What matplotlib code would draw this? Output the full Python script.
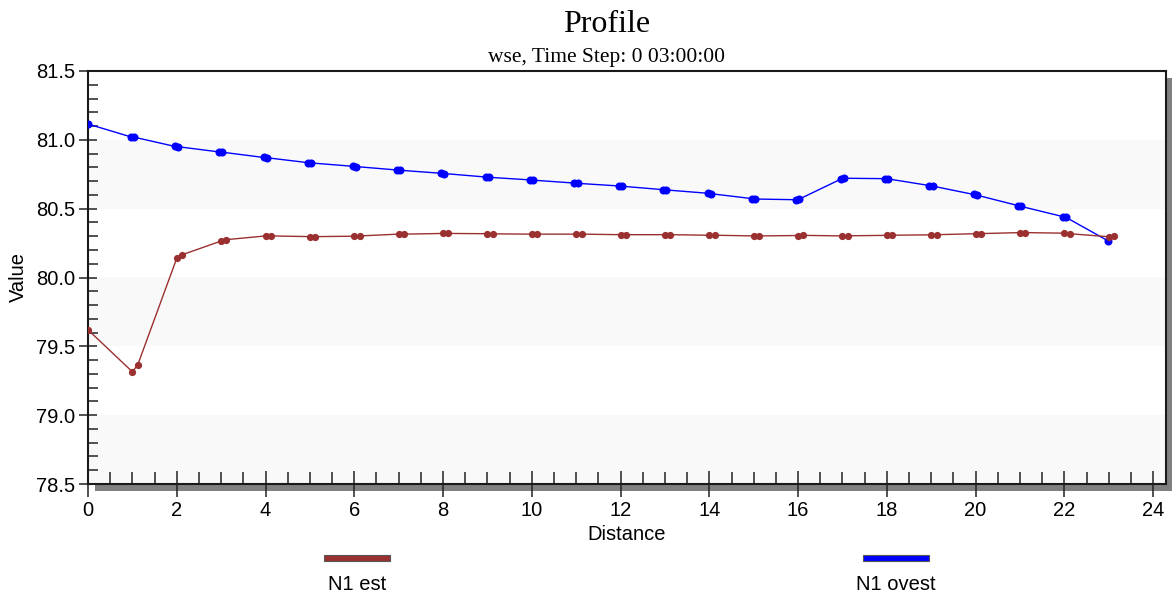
import matplotlib
matplotlib.use("Agg")
import matplotlib.pyplot as plt
from matplotlib.patches import Rectangle
from matplotlib.ticker import MultipleLocator, FormatStrFormatter

# ---------------- data ----------------
est_x = [0.0,
         1.0, 1.12, 2.0, 2.12, 3.0, 3.12, 4.0, 4.12, 5.0, 5.12, 6.0, 6.12,
         7.0, 7.12, 8.0, 8.12, 9.0, 9.12, 10.0, 10.12, 11.0, 11.12, 12.0, 12.12,
         13.0, 13.12, 14.0, 14.12, 15.0, 15.12, 16.0, 16.12, 17.0, 17.12,
         18.0, 18.12, 19.0, 19.12, 20.0, 20.12, 21.0, 21.12, 22.0, 22.12,
         23.0, 23.12]
est_y = [79.62,
         79.315, 79.365, 80.14, 80.165, 80.265, 80.275, 80.302, 80.302,
         80.297, 80.297, 80.300, 80.302, 80.315, 80.315, 80.320, 80.320,
         80.318, 80.317, 80.315, 80.315, 80.315, 80.315, 80.311, 80.311,
         80.311, 80.311, 80.307, 80.307, 80.302, 80.302, 80.305, 80.306,
         80.302, 80.303, 80.306, 80.307, 80.310, 80.311, 80.318, 80.319,
         80.326, 80.326, 80.322, 80.318, 80.296, 80.298]

ovest_x = [0.0,
           0.96, 1.03, 1.96, 2.03, 2.96, 3.03, 3.96, 4.03, 4.96, 5.03,
           5.96, 6.03, 6.96, 7.03, 7.96, 8.03, 8.96, 9.03, 9.96, 10.03,
           10.96, 11.03, 11.96, 12.03, 12.96, 13.03, 13.96, 14.03, 14.96, 15.03,
           15.96, 16.03, 16.96, 17.03, 17.96, 18.03, 18.96, 19.03, 19.96, 20.03,
           20.96, 21.03, 21.96, 22.03,
           22.99]
ovest_y = [81.115,
           81.022, 81.020, 80.952, 80.950, 80.912, 80.910, 80.872, 80.870,
           80.834, 80.832, 80.808, 80.806, 80.781, 80.779, 80.757, 80.755,
           80.730, 80.728, 80.709, 80.707, 80.686, 80.684, 80.665, 80.663,
           80.638, 80.636, 80.612, 80.609, 80.573, 80.570, 80.565, 80.570,
           80.714, 80.721, 80.718, 80.716, 80.668, 80.664, 80.603, 80.598,
           80.522, 80.516, 80.443, 80.438,
           80.265]

series_names = ["N1 est", "N1 ovest"]
series_colors = ["#9b3030", "#0000ff"]

title = "Profile"
subtitle = "wse, Time Step: 0 03:00:00"
x_label = "Distance"
y_label = "Value"
y_min, y_max = 78.5, 81.5
x_min, x_max = 0.0, 24.29

# ---------------- figure ----------------
W, H = 1172, 599
fig = plt.figure(figsize=(W / 100, H / 100), dpi=100)
fig.patch.set_facecolor("white")

def fx(px):
    return px / W

def fy(py):
    return 1 - py / H

ax_l, ax_r, ax_t, ax_b = 88, 1166, 71, 484
ax = fig.add_axes([fx(ax_l), fy(ax_b), fx(ax_r - ax_l), (ax_b - ax_t) / H])

sans = "Liberation Sans"
serif = "Liberation Serif"

# alternating bands
for lo in [78.5, 79.5, 80.5]:
    ax.axhspan(lo, lo + 0.5, color="#f9f9f9", zorder=0, lw=0)

ax.plot(ovest_x, ovest_y, color=series_colors[1], lw=1.0, marker="o",
        markersize=5.8, markeredgewidth=0, zorder=3)
ax.plot(est_x, est_y, color=series_colors[0], lw=1.0, marker="o",
        markersize=5.2, markeredgewidth=0, zorder=4)

ax.set_xlim(x_min, x_max)
ax.set_ylim(y_min, y_max)

ax.xaxis.set_major_locator(MultipleLocator(2))
ax.xaxis.set_minor_locator(MultipleLocator(0.5))
ax.yaxis.set_major_locator(MultipleLocator(0.5))
ax.yaxis.set_minor_locator(MultipleLocator(0.1))
ax.yaxis.set_major_formatter(FormatStrFormatter("%.1f"))

ax.tick_params(axis="x", which="major", direction="inout", length=18.5,
               width=1.1, color="#222222", pad=3, labelsize=14.5)
ax.tick_params(axis="x", which="minor", direction="in", length=8.5,
               width=1.1, color="#222222")
ax.tick_params(axis="y", which="major", direction="inout", length=13,
               width=1.1, color="#222222", pad=2.5, labelsize=14.5)
ax.tick_params(axis="y", which="minor", direction="in", length=7,
               width=1.1, color="#222222")
for lab in ax.get_xticklabels() + ax.get_yticklabels():
    lab.set_fontfamily(sans)

for sp in ax.spines.values():
    sp.set_linewidth(1.5)
    sp.set_color("#1a1a1a")

ax.set_xlabel(x_label, fontfamily=sans, fontsize=14.5)
ax.set_ylabel(y_label, fontfamily=sans, fontsize=14.5)
ax.xaxis.set_label_coords((627 - ax_l) / (ax_r - ax_l), (ax_b - 534) / (ax_b - ax_t))
ax.yaxis.set_label_coords((18 - ax_l) / (ax_r - ax_l), 0.5)
ax.xaxis.label.set_va("center")
ax.yaxis.label.set_va("center")

# drop shadow
fig.patches.append(Rectangle((fx(95), fy(491)), fx(W - 95), (491 - 484) / H,
                             transform=fig.transFigure, facecolor="#808080",
                             edgecolor="none", zorder=-1))
fig.patches.append(Rectangle((fx(1166), fy(491)), fx(W - 1166), (491 - 78) / H,
                             transform=fig.transFigure, facecolor="#808080",
                             edgecolor="none", zorder=-1))

# titles
fig.text(fx(607), fy(32), title, fontfamily=serif, fontsize=23,
         ha="center", va="baseline")
fig.text(fx(607), fy(62), subtitle, fontfamily=serif, fontsize=15.5,
         ha="center", va="baseline")

# legend
leg_centers = [357, 896]
for name, col, cx in zip(series_names, series_colors, leg_centers):
    fig.patches.append(Rectangle((fx(cx - 33), fy(561)), fx(66), 6 / H,
                                 transform=fig.transFigure, facecolor=col,
                                 edgecolor="#555555", lw=0.8))
    fig.text(fx(cx), fy(584), name, fontfamily=sans, fontsize=14.5,
             ha="center", va="center")

fig.savefig("out.png", dpi=100)
